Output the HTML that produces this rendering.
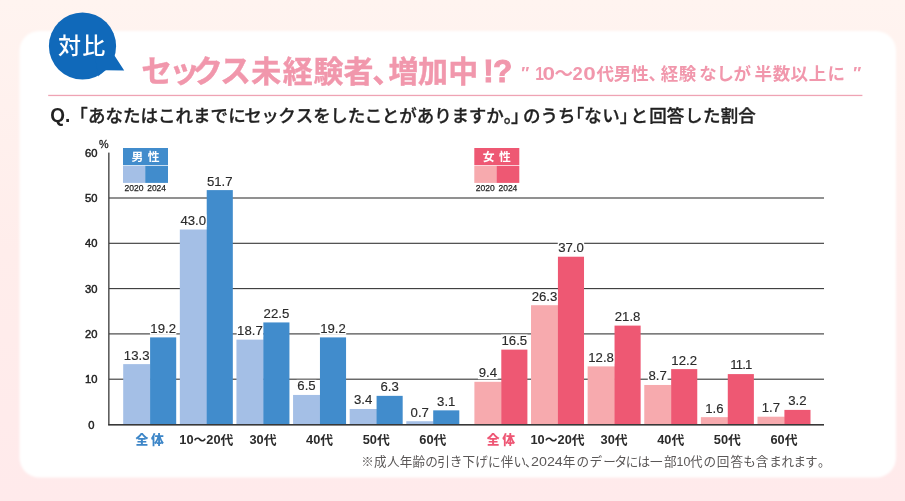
<!DOCTYPE html>
<html lang="ja"><head><meta charset="utf-8"><title>セックス未経験者、増加中!?</title>
<style>
html,body{margin:0;padding:0;}
body{width:905px;height:501px;overflow:hidden;background:#ffedeb;font-family:"Liberation Sans","Noto Sans CJK JP",sans-serif;}
svg{display:block;position:absolute;left:0;top:0;}
text{font-family:"Liberation Sans","Noto Sans CJK JP",sans-serif;}
.v{font-size:13.2px;fill:#2b2b2b;stroke:#2b2b2b;stroke-width:0.15px;text-anchor:middle;}
.ax{font-size:11.2px;font-weight:400;fill:#222;stroke:#222;stroke-width:0.45px;text-anchor:middle;}
.cat{font-size:12.8px;font-weight:700;fill:#2b2b2b;text-anchor:middle;}
.q{font-size:17.5px;font-weight:500;fill:#222;stroke:#222;stroke-width:0.3px;}
.h{font-feature-settings:"halt";}
.note{font-size:12.6px;fill:#5a5757;}
.yr{font-size:9.6px;fill:#222;font-weight:400;stroke:#222;stroke-width:0.25px;}
.t1{font-size:30px;font-weight:700;fill:#f197ac;stroke:#f197ac;stroke-width:0.4px;}
.t2{font-size:17.5px;font-weight:700;fill:#f197ac;}
</style></head><body>
<svg width="905" height="501" viewBox="0 0 905 501">
<defs>
<linearGradient id="bg" x1="0" y1="0" x2="0" y2="1"><stop offset="0" stop-color="#fff4f0"/><stop offset="0.5" stop-color="#ffedeb"/><stop offset="1" stop-color="#ffeaeb"/></linearGradient>
<filter id="soft" x="-5%" y="-5%" width="110%" height="110%"><feGaussianBlur stdDeviation="1.1"/></filter>
</defs>
<rect width="905" height="501" fill="url(#bg)"/>
<rect x="19.5" y="31" width="876.5" height="446.5" rx="20" ry="20" fill="#ffffff" filter="url(#soft)"/>

<g fill="#1069ba"><circle cx="82.5" cy="46" r="33.6"/><path d="M113.8 54.5 L124.2 70.6 L105.5 70.3 Q101.5 71.5 98.5 76.5 L95 58 Z"/></g>
<text x="82.3" y="54" text-anchor="middle" font-size="23px" font-weight="500" fill="#fff" letter-spacing="1.2">対比</text>
<g class="t1">
<text text-anchor="middle" x="156.8 184.5 207.6 235.5" y="82.2" font-size="31px">セックス</text>
<text text-anchor="middle" x="266.2 297.7 328.5 358.6" y="82">未経験者</text>
<text x="372.3" y="82">、</text>
<text text-anchor="middle" x="403.6 432.9 463.3" y="82">増加中</text>
<text text-anchor="middle" x="488.4 502.6" y="82.2" font-size="31px" stroke-width="1.1">!?</text>
</g>
<g class="t2">
<text x="520.2" y="78.8" font-style="italic" font-size="17px">″</text>
<g font-size="18.4px">
<text transform="translate(535.3,80.3) scale(0.85,1)">1</text>
<text transform="translate(542.6,80.3) scale(1.22,1)">0</text>
<text x="554.6" y="80.2" font-size="18.5px">〜</text>
<text x="572.5" y="80.3">2</text>
<text transform="translate(583.3,80.3) scale(1.22,1)">0</text>
</g>
<text text-anchor="middle" x="605.2 622.6 640.1" y="80.3">代男性</text>
<text x="648.6" y="80.3">、</text>
<text text-anchor="middle" x="669.4 687.5 708.0 725.3 742.2 763.3 781.5 799.3 817.5 836.2" y="80.3">経験なしが半数以上に</text>
<text x="852.2" y="78.8" font-style="italic" font-size="17px">″</text>
</g>
<rect x="48.2" y="94.8" width="814.2" height="1.3" fill="#efa3b4"/>
<g class="q">
<text x="50.3" y="122.4" font-weight="700" font-size="20.5px" textLength="20" lengthAdjust="spacingAndGlyphs" stroke="none">Q.</text>
<text x="70.2" y="122">「</text>
<text text-anchor="middle" x="96.8 114.2 131.8 149.2 166.8 184.2 201.8 219.2 237.1 253.1 270.1 287.1 304.6 322.1 339.1 356.6 373.6 390.6 408.1 425.6 443.1 460.2 477.6 495.1" y="122">あなたはこれまでにセックスをしたことがありますか</text>
<text x="503.8" y="122">。</text>
<text x="511" y="122">」</text>
<text text-anchor="middle" x="531.8 549.2 566.8" y="122">のうち</text>
<text x="566.8" y="122">「</text>
<text text-anchor="middle" x="593.1 610.9" y="122">ない</text>
<text x="619.7" y="122">」</text>
<text text-anchor="middle" x="639.2 657.9 675.5 693.7 711.8 729.5 747.1" y="122">と回答した割合</text>
</g>
<rect x="109" y="378.65" width="715" height="1.1" fill="#383838"/>
<rect x="109" y="333.35" width="715" height="1.1" fill="#383838"/>
<rect x="109" y="288.05" width="715" height="1.1" fill="#383838"/>
<rect x="109" y="242.75" width="715" height="1.1" fill="#383838"/>
<rect x="109" y="197.45" width="715" height="1.1" fill="#383838"/>
<text class="ax" x="91.3" y="428.60">0</text>
<text class="ax" x="91.3" y="383.28">10</text>
<text class="ax" x="91.3" y="337.96">20</text>
<text class="ax" x="91.3" y="292.64">30</text>
<text class="ax" x="91.3" y="247.32">40</text>
<text class="ax" x="91.3" y="202.00">50</text>
<text class="ax" x="91.3" y="156.68">60</text>
<text x="99.0" y="148" font-size="11.6px" fill="#222" stroke="#222" stroke-width="0.3" textLength="9.6" lengthAdjust="spacingAndGlyphs">%</text>
<rect x="123" y="148" width="45" height="17.2" fill="#418ccc"/>
<rect x="123" y="165.9" width="22.2" height="17" fill="#a4bfe6"/>
<rect x="145.2" y="165.9" width="22.8" height="17" fill="#418ccc"/>
<text x="131.4" y="161.4" font-size="11.8px" font-weight="700" fill="#fff" letter-spacing="4.6">男性</text>
<text class="yr" x="124.5" y="191.4" textLength="19" lengthAdjust="spacingAndGlyphs">2020</text>
<text class="yr" x="147.2" y="191.4" textLength="18.8" lengthAdjust="spacingAndGlyphs">2024</text>
<rect x="474.3" y="148" width="45" height="17.2" fill="#ee5873"/>
<rect x="474.3" y="165.9" width="22.2" height="17" fill="#f7aaae"/>
<rect x="496.5" y="165.9" width="22.8" height="17" fill="#ee5873"/>
<text x="482.7" y="161.4" font-size="11.8px" font-weight="700" fill="#fff" letter-spacing="4.6">女性</text>
<text class="yr" x="475.8" y="191.4" textLength="19" lengthAdjust="spacingAndGlyphs">2020</text>
<text class="yr" x="498.5" y="191.4" textLength="18.8" lengthAdjust="spacingAndGlyphs">2024</text>
<rect x="123.20" y="364.12" width="27.3" height="60.28" fill="#a4bfe6"/>
<rect x="150.10" y="337.39" width="26.1" height="87.01" fill="#418ccc"/>
<rect x="179.82" y="229.52" width="27.3" height="194.88" fill="#a4bfe6"/>
<rect x="206.72" y="190.10" width="26.1" height="234.30" fill="#418ccc"/>
<rect x="236.44" y="339.65" width="27.3" height="84.75" fill="#a4bfe6"/>
<rect x="263.34" y="322.43" width="26.1" height="101.97" fill="#418ccc"/>
<rect x="293.06" y="394.94" width="27.3" height="29.46" fill="#a4bfe6"/>
<rect x="319.96" y="337.39" width="26.1" height="87.01" fill="#418ccc"/>
<rect x="349.68" y="408.99" width="27.3" height="15.41" fill="#a4bfe6"/>
<rect x="376.58" y="395.85" width="26.1" height="28.55" fill="#418ccc"/>
<rect x="406.30" y="421.23" width="27.3" height="3.17" fill="#a4bfe6"/>
<rect x="433.20" y="410.35" width="26.1" height="14.05" fill="#418ccc"/>
<rect x="123.45" y="349.02" width="26.40" height="12.5" fill="#fff"/>
<text class="v" x="136.65" y="359.52">13.3</text>
<rect x="149.95" y="322.29" width="26.40" height="12.5" fill="#fff"/>
<text class="v" x="163.15" y="332.79">19.2</text>
<text class="cat" x="151.00" y="443.6" style="fill:#3d86c8;font-weight:900" letter-spacing="2.6">全体</text>
<rect x="180.07" y="214.42" width="26.40" height="12.5" fill="#fff"/>
<text class="v" x="193.27" y="224.92">43.0</text>
<rect x="206.57" y="175.00" width="26.40" height="12.5" fill="#fff"/>
<text class="v" x="219.77" y="185.50">51.7</text>
<text class="cat" x="206.32" y="443.6" style="fill:#2b2b2b">10〜20代</text>
<rect x="236.69" y="324.55" width="26.40" height="12.5" fill="#fff"/>
<text class="v" x="249.89" y="335.05">18.7</text>
<rect x="263.19" y="307.33" width="26.40" height="12.5" fill="#fff"/>
<text class="v" x="276.39" y="317.83">22.5</text>
<text class="cat" x="262.94" y="443.6" style="fill:#2b2b2b">30代</text>
<rect x="296.61" y="379.84" width="19.80" height="12.5" fill="#fff"/>
<text class="v" x="306.51" y="390.34">6.5</text>
<rect x="319.81" y="322.29" width="26.40" height="12.5" fill="#fff"/>
<text class="v" x="333.01" y="332.79">19.2</text>
<text class="cat" x="319.56" y="443.6" style="fill:#2b2b2b">40代</text>
<rect x="353.23" y="393.89" width="19.80" height="12.5" fill="#fff"/>
<text class="v" x="363.13" y="404.39">3.4</text>
<rect x="379.73" y="380.75" width="19.80" height="12.5" fill="#fff"/>
<text class="v" x="389.63" y="391.25">6.3</text>
<text class="cat" x="376.18" y="443.6" style="fill:#2b2b2b">50代</text>
<rect x="409.85" y="406.13" width="19.80" height="12.5" fill="#fff"/>
<text class="v" x="419.75" y="416.63">0.7</text>
<rect x="436.35" y="395.25" width="19.80" height="12.5" fill="#fff"/>
<text class="v" x="446.25" y="405.75">3.1</text>
<text class="cat" x="432.80" y="443.6" style="fill:#2b2b2b">60代</text>
<rect x="474.40" y="381.80" width="27.3" height="42.60" fill="#f7aaae"/>
<rect x="501.30" y="349.62" width="26.1" height="74.78" fill="#ee5873"/>
<rect x="531.02" y="305.21" width="27.3" height="119.19" fill="#f7aaae"/>
<rect x="557.92" y="256.72" width="26.1" height="167.68" fill="#ee5873"/>
<rect x="587.64" y="366.39" width="27.3" height="58.01" fill="#f7aaae"/>
<rect x="614.54" y="325.60" width="26.1" height="98.80" fill="#ee5873"/>
<rect x="644.26" y="384.97" width="27.3" height="39.43" fill="#f7aaae"/>
<rect x="671.16" y="369.11" width="26.1" height="55.29" fill="#ee5873"/>
<rect x="700.88" y="417.15" width="27.3" height="7.25" fill="#f7aaae"/>
<rect x="727.78" y="374.09" width="26.1" height="50.31" fill="#ee5873"/>
<rect x="757.50" y="416.70" width="27.3" height="7.70" fill="#f7aaae"/>
<rect x="784.40" y="409.90" width="26.1" height="14.50" fill="#ee5873"/>
<rect x="477.95" y="366.70" width="19.80" height="12.5" fill="#fff"/>
<text class="v" x="487.85" y="377.20">9.4</text>
<rect x="501.15" y="334.52" width="26.40" height="12.5" fill="#fff"/>
<text class="v" x="514.35" y="345.02">16.5</text>
<text class="cat" x="502.20" y="443.6" style="fill:#ee5674;font-weight:900" letter-spacing="2.6">全体</text>
<rect x="531.27" y="290.11" width="26.40" height="12.5" fill="#fff"/>
<text class="v" x="544.47" y="300.61">26.3</text>
<rect x="557.77" y="241.62" width="26.40" height="12.5" fill="#fff"/>
<text class="v" x="570.97" y="252.12">37.0</text>
<text class="cat" x="557.52" y="443.6" style="fill:#2b2b2b">10〜20代</text>
<rect x="587.89" y="351.29" width="26.40" height="12.5" fill="#fff"/>
<text class="v" x="601.09" y="361.79">12.8</text>
<rect x="614.39" y="310.50" width="26.40" height="12.5" fill="#fff"/>
<text class="v" x="627.59" y="321.00">21.8</text>
<text class="cat" x="614.14" y="443.6" style="fill:#2b2b2b">30代</text>
<rect x="647.81" y="369.87" width="19.80" height="12.5" fill="#fff"/>
<text class="v" x="657.71" y="380.37">8.7</text>
<rect x="671.01" y="354.01" width="26.40" height="12.5" fill="#fff"/>
<text class="v" x="684.21" y="364.51">12.2</text>
<text class="cat" x="670.76" y="443.6" style="fill:#2b2b2b">40代</text>
<rect x="704.43" y="402.05" width="19.80" height="12.5" fill="#fff"/>
<text class="v" x="714.33" y="412.55">1.6</text>
<rect x="727.63" y="358.99" width="26.40" height="12.5" fill="#fff"/>
<text class="v" x="740.83" y="369.49" letter-spacing="-0.9">11.1</text>
<text class="cat" x="727.38" y="443.6" style="fill:#2b2b2b">50代</text>
<rect x="761.05" y="401.60" width="19.80" height="12.5" fill="#fff"/>
<text class="v" x="770.95" y="412.10">1.7</text>
<rect x="787.55" y="394.80" width="19.80" height="12.5" fill="#fff"/>
<text class="v" x="797.45" y="405.30">3.2</text>
<text class="cat" x="784.00" y="443.6" style="fill:#2b2b2b">60代</text>
<rect x="108.2" y="152.6" width="1.3" height="272.60" fill="#383838"/>
<rect x="108.2" y="424.00" width="715.8" height="1.6" fill="#383838"/>
<g class="note">
<text text-anchor="middle" x="367.6 380.2 393.3 406.1 418.9 431.5 443.6 456.0 468.7 481.5 494.3 507.1 519.7" y="465.7">※成人年齢の引き下げに伴い</text>
<text x="524.7" y="465.7">、</text>
<text x="531.0" y="465.7" font-size="12.3px" textLength="31.8" lengthAdjust="spacingAndGlyphs">2024</text>
<text text-anchor="middle" x="569.0 582.9 595.8 609.5 620.9 632.0 643.7 656.3 670.4" y="465.7">年のデータには一部</text>
<text x="676.6" y="465.7" font-size="12.3px" textLength="13.8" lengthAdjust="spacingAndGlyphs">10</text>
<text text-anchor="middle" x="696.4 709.7 723.0 736.7 749.6 762.1 775.5 787.8 799.9 811.4" y="465.7">代の回答も含まれます</text>
<text x="817.9" y="465.7">。</text>
</g>
</svg></body></html>
